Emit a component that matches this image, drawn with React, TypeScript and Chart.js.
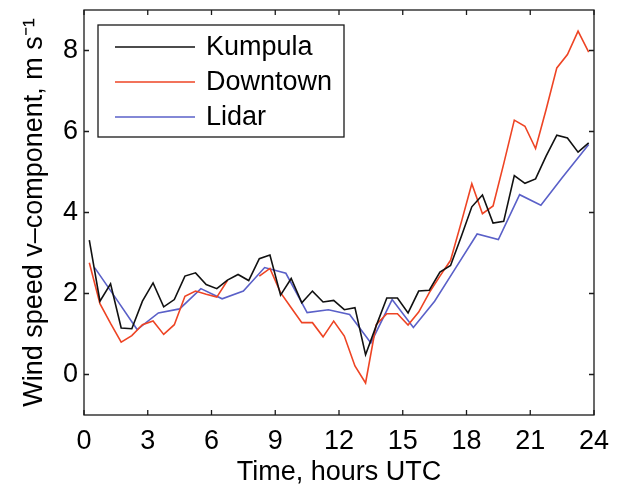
import { useEffect, useRef } from "react";
import { Chart, registerables } from "chart.js";

Chart.register(...registerables);

// Half-hourly station samples (hours UTC)
const HOURS = [
  0.25, 0.75, 1.25, 1.75, 2.25, 2.75, 3.25, 3.75, 4.25, 4.75, 5.25, 5.75,
  6.25, 6.75, 7.25, 7.75, 8.25, 8.75, 9.25, 9.75, 10.25, 10.75, 11.25, 11.75,
  12.25, 12.75, 13.25, 13.75, 14.25, 14.75, 15.25, 15.75, 16.25, 16.75, 17.25, 17.75,
  18.25, 18.75, 19.25, 19.75, 20.25, 20.75, 21.25, 21.75, 22.25, 22.75, 23.25, 23.75,
];

const KUMPULA = [
  3.32, 1.81, 2.24, 1.15, 1.13, 1.81, 2.26, 1.67, 1.85, 2.43, 2.51, 2.22,
  2.12, 2.33, 2.47, 2.32, 2.86, 2.95, 1.96, 2.37, 1.77, 2.06, 1.79, 1.83,
  1.6, 1.65, 0.49, 1.2, 1.89, 1.89, 1.52, 2.06, 2.08, 2.53, 2.69, 3.4,
  4.14, 4.43, 3.74, 3.78, 4.91, 4.72, 4.83, 5.4, 5.91, 5.84, 5.49, 5.72,
];

const DOWNTOWN = [
  2.76, 1.75, 1.26, 0.8, 0.96, 1.23, 1.32, 0.99, 1.23, 1.93, 2.06, 1.98,
  1.91, 2.32, null, null, 2.43, 2.62, 2.02, 1.65, 1.28, 1.28, 0.93, 1.32,
  0.95, 0.21, -0.21, 1.23, 1.5, 1.5, 1.22, 1.54, 2.02, 2.43, 2.82, 3.75,
  4.71, 3.97, 4.16, 5.2, 6.28, 6.13, 5.58, 6.55, 7.57, 7.9, 8.48, 7.96,
];

// Hourly lidar retrievals
const LIDAR_HOURS = [
  0.5, 1.5, 2.5, 3.5, 4.5, 5.5, 6.5, 7.5, 8.5, 9.5, 10.5, 11.5,
  12.5, 13.5, 14.5, 15.5, 16.5, 17.5, 18.5, 19.5, 20.5, 21.5, 22.5, 23.75,
];

const LIDAR = [
  2.64, 1.88, 1.11, 1.52, 1.62, 2.12, 1.87, 2.06, 2.64, 2.5, 1.53, 1.6,
  1.48, 0.78, 1.85, 1.16, 1.81, 2.64, 3.47, 3.33, 4.44, 4.18, 4.86, 5.68,
];

const SERIES_NAMES = ["Kumpula", "Downtown", "Lidar"];
const SERIES_COLORS = ["#111111", "#ee4424", "#5a60c8"];

const X_TICKS = [0, 3, 6, 9, 12, 15, 18, 21, 24];
const Y_TICKS = [0, 2, 4, 6, 8];

const FONT = "'Liberation Sans', Arial, Helvetica, sans-serif";
const FONT_SIZE = 27;
const TICK_LEN = 5;

const toPoints = (xs: number[], ys: (number | null)[]) =>
  xs.map((x, i) => ({ x, y: ys[i] }));

// Box around the axes with inward tick marks on all four sides
const framePlugin = {
  id: "frame",
  afterDatasetsDraw(chart: any) {
    const { ctx, chartArea, scales } = chart;
    const { left, right, top, bottom } = chartArea;
    ctx.save();
    ctx.strokeStyle = "#1a1a1a";
    ctx.lineWidth = 1.3;
    ctx.strokeRect(left, top, right - left, bottom - top);
    ctx.beginPath();
    for (const v of X_TICKS) {
      const px = scales.x.getPixelForValue(v);
      ctx.moveTo(px, bottom);
      ctx.lineTo(px, bottom - TICK_LEN);
      ctx.moveTo(px, top);
      ctx.lineTo(px, top + TICK_LEN);
    }
    for (const v of Y_TICKS) {
      const py = scales.y.getPixelForValue(v);
      ctx.moveTo(left, py);
      ctx.lineTo(left + TICK_LEN, py);
      ctx.moveTo(right, py);
      ctx.lineTo(right - TICK_LEN, py);
    }
    ctx.stroke();
    ctx.restore();
  },
};

// Legend box in the upper-left corner of the axes
const legendPlugin = {
  id: "boxLegend",
  afterDatasetsDraw(chart: any) {
    const { ctx, chartArea } = chart;
    const bx = chartArea.left + 14;
    const by = chartArea.top + 15;
    const bw = 246;
    const bh = 112;
    ctx.save();
    ctx.fillStyle = "#ffffff";
    ctx.fillRect(bx, by, bw, bh);
    ctx.strokeStyle = "#1a1a1a";
    ctx.lineWidth = 1.3;
    ctx.strokeRect(bx, by, bw, bh);
    ctx.font = `${FONT_SIZE}px ${FONT}`;
    ctx.textBaseline = "middle";
    ctx.textAlign = "left";
    chart.data.datasets.forEach((ds: any, i: number) => {
      const ry = by + 22 + i * 35;
      ctx.strokeStyle = ds.borderColor;
      ctx.lineWidth = 1.6;
      ctx.beginPath();
      ctx.moveTo(bx + 17, ry);
      ctx.lineTo(bx + 97, ry);
      ctx.stroke();
      ctx.fillStyle = "#000000";
      ctx.fillText(ds.label, bx + 108, ry + 1);
    });
    ctx.restore();
  },
};

export default function App() {
  const canvasRef = useRef<HTMLCanvasElement | null>(null);

  useEffect(() => {
    const canvas = canvasRef.current;
    if (!canvas) return;
    const chart = new Chart(canvas, {
      type: "line",
      data: {
        datasets: [
          {
            label: SERIES_NAMES[0],
            data: toPoints(HOURS, KUMPULA),
            borderColor: SERIES_COLORS[0],
          },
          {
            label: SERIES_NAMES[1],
            data: toPoints(HOURS, DOWNTOWN),
            borderColor: SERIES_COLORS[1],
          },
          {
            label: SERIES_NAMES[2],
            data: toPoints(LIDAR_HOURS, LIDAR),
            borderColor: SERIES_COLORS[2],
          },
        ].map((d) => ({
          ...d,
          borderWidth: 1.6,
          pointRadius: 0,
          tension: 0,
          fill: false,
          spanGaps: false,
        })),
      },
      options: {
        responsive: false,
        animation: false,
        devicePixelRatio: 1,
        layout: { padding: { top: 10, right: 29, bottom: 0, left: 0 } },
        plugins: {
          legend: { display: false },
          tooltip: { enabled: false },
        },
        scales: {
          x: {
            type: "linear",
            min: 0,
            max: 24,
            grid: { display: false, drawTicks: false },
            border: { display: false },
            afterBuildTicks: (scale: any) => {
              scale.ticks = X_TICKS.map((value) => ({ value }));
            },
            afterFit: (scale: any) => {
              scale.height = 71;
              scale.paddingLeft = 0;
              scale.paddingRight = 0;
            },
            ticks: {
              color: "#000",
              font: { family: FONT, size: FONT_SIZE },
              padding: 10,
              maxRotation: 0,
              autoSkip: false,
            },
            title: {
              display: true,
              text: "Time, hours UTC",
              color: "#000",
              font: { family: FONT, size: FONT_SIZE, lineHeight: 1 },
              padding: { top: 0, bottom: 0 },
            },
          },
          y: {
            type: "linear",
            min: -1,
            max: 9,
            grid: { display: false, drawTicks: false },
            border: { display: false },
            afterBuildTicks: (scale: any) => {
              scale.ticks = Y_TICKS.map((value) => ({ value }));
            },
            afterFit: (scale: any) => {
              scale.width = 84;
              scale.paddingTop = 0;
              scale.paddingBottom = 0;
            },
            ticks: {
              color: "#000",
              font: { family: FONT, size: FONT_SIZE },
              padding: 6,
              autoSkip: false,
            },
            title: {
              display: true,
              text: "Wind speed v–component, m s⁻¹",
              color: "#000",
              font: { family: FONT, size: FONT_SIZE, lineHeight: 1.2 },
              padding: { top: 18, bottom: 0 },
            },
          },
        },
      },
      plugins: [framePlugin, legendPlugin],
    });
    return () => chart.destroy();
  }, []);

  return (
    <div
      style={{
        position: "fixed",
        left: 0,
        top: 0,
        width: 623,
        height: 486,
        background: "#ffffff",
      }}
    >
      <canvas ref={canvasRef} width={623} height={486} style={{ width: 623, height: 486 }} />
    </div>
  );
}
